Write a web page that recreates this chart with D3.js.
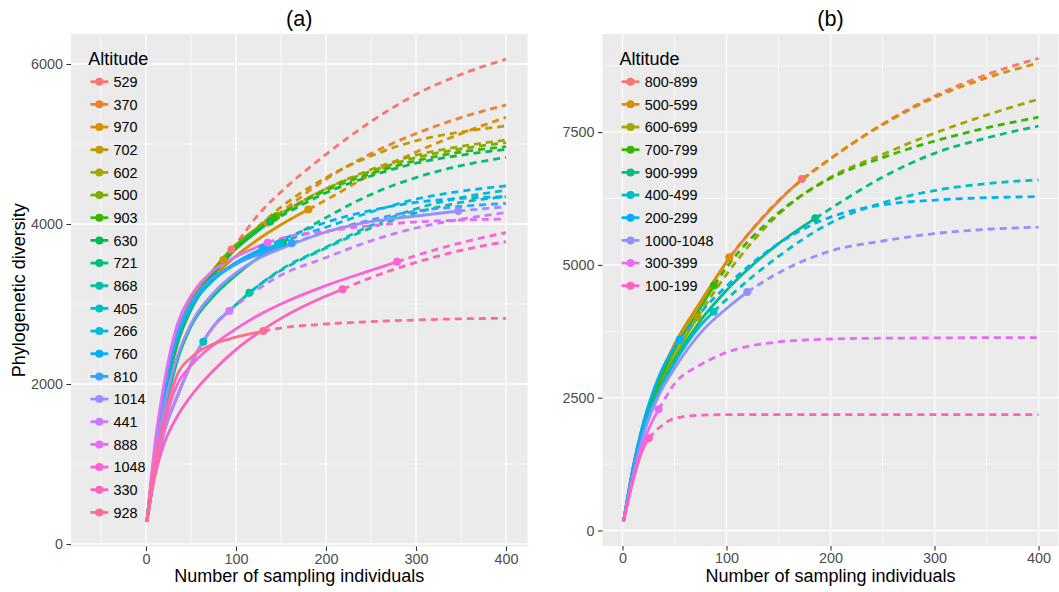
<!DOCTYPE html>
<html>
<head>
<meta charset="utf-8">
<script src="https://cdn.jsdelivr.net/npm/d3@7"></script>
<style>
  body { margin: 0; background: #ffffff; }
  svg text { font-family: "Liberation Sans", Arial, Helvetica, sans-serif; }
</style>
</head>
<body>
<svg id="chart" width="1059" height="592"></svg>
<script>
// ---------- Panel (a): individual altitudes ----------
const sizesA = [1, 10, 20, 35, 50, 75, 100, 125, 150, 200, 250, 300, 350, 400];
const altitudesA = ["529", "370", "970", "702", "602", "500", "903", "630", "721", "868",
                    "405", "266", "760", "810", "1014", "441", "888", "1048", "330", "928"];
const coloursA = ["#F8766D", "#EA8331", "#D89000", "#C09B00", "#A3A500", "#7CAE00", "#39B600",
                  "#00BB4E", "#00BF7D", "#00C1A3", "#00BFC4", "#00BAE0", "#00B0F6", "#35A2FF",
                  "#9590FF", "#C77CFF", "#E76BF3", "#FA62DB", "#FF62BC", "#FF6C90"];
const observedNA  = [95, 135, 180.4, 86, 141, 145, 143, 138, 152, 114.8,
                     63.7, 148, 130, 161.9, 347, 92.6, 135.2, 279, 218.5, 130.4];
const observedPDA = [3680, 4020, 4180, 3550, 4070, 4100, 4080, 4030, 3767, 3141,
                     2529, 3755, 3700, 3758, 4162, 2912, 3767, 3527, 3185, 2664];
// diversity at each value of sizesA
const curvesA = [
  [280, 1100, 1850, 2600, 2980, 3380, 3750, 4120, 4400, 4870, 5280, 5620, 5870, 6060],
  [280, 1080, 1820, 2550, 2980, 3400, 3700, 3930, 4150, 4560, 4880, 5130, 5330, 5488],
  [280, 1050, 1780, 2500, 2930, 3330, 3600, 3810, 3990, 4300, 4620, 4900, 5130, 5333],
  [280, 1150, 1900, 2650, 3050, 3420, 3700, 3970, 4210, 4580, 4850, 5040, 5150, 5225],
  [280, 1100, 1830, 2580, 2990, 3420, 3730, 3950, 4130, 4440, 4680, 4860, 4970, 5050],
  [280, 1110, 1850, 2600, 3000, 3430, 3740, 3960, 4132, 4440, 4660, 4830, 4940, 5017],
  [280, 1090, 1820, 2570, 2970, 3400, 3710, 3940, 4125, 4420, 4630, 4790, 4900, 4967],
  [280, 1060, 1780, 2520, 2930, 3370, 3690, 3920, 4100, 4390, 4600, 4760, 4860, 4933],
  [280,  950, 1600, 2300, 2720, 3100, 3360, 3580, 3755, 4080, 4370, 4580, 4730, 4833],
  [280,  900, 1400, 1850, 2250, 2720, 2990, 3230, 3420, 3700, 3950, 4140, 4270, 4342],
  [280,  900, 1400, 1850, 2250, 2720, 2990, 3230, 3430, 3710, 3980, 4190, 4330, 4420],
  [280, 1120, 1860, 2580, 2960, 3300, 3500, 3640, 3765, 3960, 4150, 4310, 4410, 4475],
  [280, 1130, 1880, 2600, 2980, 3310, 3520, 3670, 3800, 4020, 4170, 4270, 4320, 4342],
  [280, 1150, 1900, 2640, 3010, 3330, 3500, 3620, 3710, 3900, 4050, 4160, 4220, 4258],
  [280, 1080, 1700, 2350, 2750, 3140, 3390, 3570, 3690, 3900, 4030, 4100, 4165, 4217],
  [280,  900, 1400, 1850, 2250, 2720, 2980, 3190, 3360, 3580, 3790, 3950, 4060, 4142],
  [280, 1250, 2000, 2750, 3100, 3420, 3590, 3720, 3820, 3910, 3980, 4025, 4050, 4062],
  [280,  950, 1480, 2000, 2230, 2490, 2690, 2860, 3000, 3230, 3420, 3605, 3765, 3892],
  [280,  850, 1250, 1600, 1850, 2170, 2430, 2640, 2820, 3100, 3330, 3520, 3670, 3779],
  [280, 1000, 1550, 2120, 2330, 2500, 2585, 2650, 2700, 2750, 2780, 2800, 2815, 2821]
];

// ---------- Panel (b): altitude bands ----------
const sizesB = [1, 10, 20, 35, 50, 75, 100, 150, 200, 250, 300, 350, 400];
const altitudesB = ["800-899", "500-599", "600-699", "700-799", "900-999",
                    "400-499", "200-299", "1000-1048", "300-399", "100-199"];
const coloursB = ["#F8766D", "#D89000", "#A3A500", "#39B600", "#00BF7D",
                  "#00BFC4", "#00B0F6", "#9590FF", "#E76BF3", "#FF62BC"];
const observedNB  = [172.5, 102.7, 72.2, 88, 185.4, 87.6, 55, 120, 34.7, 25.3];
const observedPDB = [6617, 5143, 4013, 4610, 5877, 4119, 3590, 4490, 2281, 1736];
const curvesB = [
  [166, 1150, 2000, 2850, 3500, 4300, 5050, 6200, 7000, 7650, 8180, 8580, 8890],
  [166, 1150, 2000, 2850, 3500, 4300, 5060, 6210, 7000, 7640, 8150, 8520, 8800],
  [166, 1130, 1950, 2700, 3280, 4100, 4820, 5950, 6650, 7080, 7480, 7820, 8120],
  [166, 1130, 1960, 2780, 3400, 4200, 4950, 5980, 6630, 7020, 7330, 7580, 7780],
  [166, 1120, 1900, 2650, 3200, 3950, 4520, 5400, 6060, 6650, 7100, 7390, 7615],
  [166, 1120, 1900, 2620, 3150, 3860, 4350, 5160, 5790, 6170, 6400, 6530, 6600],
  [166, 1180, 2020, 2900, 3450, 4100, 4600, 5400, 5900, 6130, 6220, 6265, 6285],
  [166, 1050, 1800, 2550, 3050, 3720, 4180, 4850, 5260, 5450, 5590, 5670, 5710],
  [166,  950, 1650, 2290, 2760, 3120, 3350, 3550, 3605, 3620, 3625, 3630, 3630],
  [166,  920, 1550, 1930, 2110, 2170, 2180, 2180, 2180, 2180, 2180, 2180, 2180]
];

const LINE_W = 2.8;
const DOT_R = 4;
const svg = d3.select("#chart");

function drawPanel(p) {
  const g = svg.append("g");
  const x = d3.scaleLinear().domain(p.xDomain).range([p.left, p.right]);
  const y = d3.scaleLinear().domain(p.yDomain).range([p.bottom, p.top]);

  // panel background
  g.append("rect")
    .attr("x", p.left).attr("y", p.top)
    .attr("width", p.right - p.left).attr("height", p.bottom - p.top)
    .attr("fill", "#EBEBEB");

  // minor grid
  g.selectAll(null).data(p.xMinor).join("line")
    .attr("x1", d => x(d)).attr("x2", d => x(d))
    .attr("y1", p.top).attr("y2", p.bottom)
    .attr("stroke", "#fff").attr("stroke-width", 0.65);
  g.selectAll(null).data(p.yMinor).join("line")
    .attr("y1", d => y(d)).attr("y2", d => y(d))
    .attr("x1", p.left).attr("x2", p.right)
    .attr("stroke", "#fff").attr("stroke-width", 0.65);
  // major grid
  g.selectAll(null).data(p.xMajor).join("line")
    .attr("x1", d => x(d)).attr("x2", d => x(d))
    .attr("y1", p.top).attr("y2", p.bottom)
    .attr("stroke", "#fff").attr("stroke-width", 1.3);
  g.selectAll(null).data(p.yMajor).join("line")
    .attr("y1", d => y(d)).attr("y2", d => y(d))
    .attr("x1", p.left).attr("x2", p.right)
    .attr("stroke", "#fff").attr("stroke-width", 1.3);

  // axes
  const xAxis = g.append("g").attr("transform", `translate(0,${p.bottom})`)
    .call(d3.axisBottom(x).tickValues(p.xMajor).tickFormat(d3.format("d"))
      .tickSize(4.5).tickPadding(2.5));
  const yAxis = g.append("g").attr("transform", `translate(${p.left},0)`)
    .call(d3.axisLeft(y).tickValues(p.yMajor).tickFormat(d3.format("d"))
      .tickSize(4.5).tickPadding(3.5));
  [xAxis, yAxis].forEach(a => {
    a.select(".domain").remove();
    a.selectAll(".tick line").attr("stroke", "#333333").attr("stroke-width", 1.1);
    a.selectAll(".tick text").attr("fill", "#4D4D4D")
      .style("font-size", "14.4px").style("font-family", "'Liberation Sans', Arial, sans-serif");
  });

  // curves: interpolated (solid) up to the observed sample, extrapolated (dashed) beyond
  const line = d3.line().x(d => x(d[0])).y(d => y(d[1])).curve(d3.curveMonotoneX);
  const curves = g.append("g");
  p.curves.forEach((vals, i) => {
    const n = p.obsN[i], v = p.obsPD[i];
    const pts = p.sizes.map((s, j) => [s, vals[j]]);
    const solid = pts.filter(q => q[0] < n).concat([[n, v]]);
    const dashed = [[n, v]].concat(pts.filter(q => q[0] > n));
    curves.append("path").datum(solid).attr("d", line)
      .attr("fill", "none").attr("stroke", p.colours[i])
      .attr("stroke-width", LINE_W).attr("stroke-linejoin", "round");
    curves.append("path").datum(dashed).attr("d", line)
      .attr("fill", "none").attr("stroke", p.colours[i])
      .attr("stroke-width", LINE_W).attr("stroke-dasharray", "7,5");
  });
  // observed samples
  g.append("g").selectAll("circle").data(p.obsN).join("circle")
    .attr("cx", (d) => x(d)).attr("cy", (d, i) => y(p.obsPD[i]))
    .attr("r", DOT_R).attr("fill", (d, i) => p.colours[i]);

  // legend
  const lg = g.append("g");
  lg.append("text").attr("x", p.legendX).attr("y", 64.5)
    .style("font-size", "18px").attr("fill", "#000").text("Altitude");
  const items = lg.selectAll("g.item").data(p.names).join("g")
    .attr("class", "item")
    .attr("transform", (d, i) => `translate(0,${81.7 + i * 22.67})`);
  items.append("line")
    .attr("x1", p.legendX + 2.2).attr("x2", p.legendX + 20)
    .attr("stroke", (d, i) => p.colours[i]).attr("stroke-width", LINE_W);
  items.append("circle").attr("cx", p.legendX + 11.1).attr("r", DOT_R)
    .attr("fill", (d, i) => p.colours[i]);
  items.append("text").attr("x", p.legendX + 25.3).attr("dy", "0.36em")
    .style("font-size", "14.4px").attr("fill", "#000").text(d => d);

  // titles
  const cx = (p.left + p.right) / 2;
  g.append("text").attr("x", cx).attr("y", 25.5).attr("text-anchor", "middle")
    .style("font-size", "21.6px").attr("fill", "#000").text(p.title);
  g.append("text").attr("x", cx).attr("y", 581.5).attr("text-anchor", "middle")
    .style("font-size", "18px").attr("fill", "#000").text("Number of sampling individuals");
  if (p.yTitle) {
    g.append("text")
      .attr("transform", `translate(25,${(p.top + p.bottom) / 2}) rotate(-90)`)
      .attr("text-anchor", "middle").style("font-size", "18px").attr("fill", "#000")
      .text(p.yTitle);
  }
}

drawPanel({
  left: 71, right: 527.5, top: 34, bottom: 546.5,
  xDomain: [-83.3, 423.9], yDomain: [-31, 6375],
  xMajor: [0, 100, 200, 300, 400], xMinor: [-50, 50, 150, 250, 350],
  yMajor: [0, 2000, 4000, 6000], yMinor: [1000, 3000, 5000],
  sizes: sizesA, curves: curvesA, obsN: observedNA, obsPD: observedPDA,
  colours: coloursA, names: altitudesA, legendX: 88.3,
  title: "(a)", yTitle: "Phylogenetic diversity"
});

drawPanel({
  left: 602.5, right: 1058.5, top: 34, bottom: 546,
  xDomain: [-19.2, 419.2], yDomain: [-292, 9347],
  xMajor: [0, 100, 200, 300, 400], xMinor: [50, 150, 250, 350],
  yMajor: [0, 2500, 5000, 7500], yMinor: [1250, 3750, 6250, 8750],
  sizes: sizesB, curves: curvesB, obsN: observedNB, obsPD: observedPDB,
  colours: coloursB, names: altitudesB, legendX: 619.4,
  title: "(b)", yTitle: null
});
</script>
</body>
</html>
